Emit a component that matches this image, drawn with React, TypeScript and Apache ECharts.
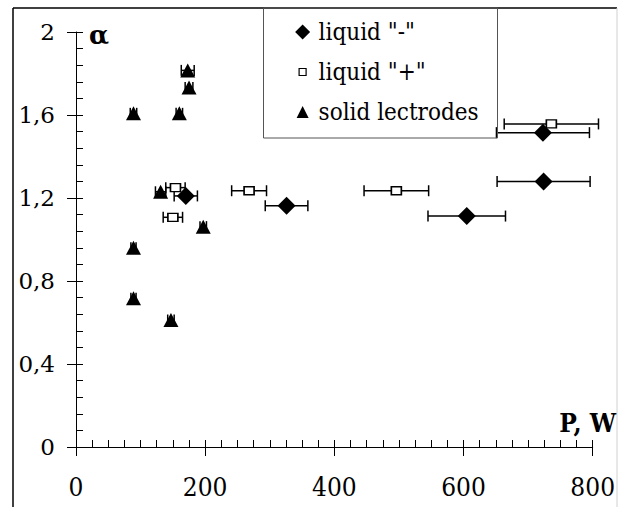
import React, { useEffect, useRef } from 'react';
import * as echarts from 'echarts';

// liquid "-" series
const minusP = [170, 326, 605, 724, 723];
const minusAlpha = [1.21, 1.163, 1.113, 1.28, 1.515];
const minusErr = [18, 33, 60, 72, 72];

// liquid "+" series
const plusP = [154, 150, 268, 496, 736];
const plusAlpha = [1.25, 1.107, 1.235, 1.235, 1.557];
const plusErr = [15, 15, 27, 50, 73];

// solid electrodes series
const solidP = [89, 160, 173, 175, 131, 197, 89, 89, 147];
const solidAlpha = [1.608, 1.608, 1.815, 1.733, 1.23, 1.062, 0.96, 0.717, 0.612];
const solidErr = [5, 5, 10, 6, 8, 5, 4, 4, 5];

const seriesNames = ['liquid "-"', 'liquid "+"', 'solid lectrodes'];
const xLabelTitle = 'P, W';
const yLabelTitle = 'α';

const FONT_C = 'DejaVu Serif Condensed';
const FONT = 'DejaVu Serif';

const toRows = (xs: number[], ys: number[], es: number[]) => xs.map((x, i) => [x, ys[i], es[i]]);

const errorBarItem = (params: any, api: any) => {
  const x = api.value(0);
  const y = api.value(1);
  const e = api.value(2);
  const l = api.coord([x - e, y]);
  const r = api.coord([x + e, y]);
  const h = 5.5;
  const style = { stroke: '#000', lineWidth: 1.5 };
  return {
    type: 'group',
    children: [
      { type: 'line', shape: { x1: l[0], y1: l[1], x2: r[0], y2: r[1] }, style },
      { type: 'line', shape: { x1: l[0], y1: l[1] - h, x2: l[0], y2: l[1] + h }, style },
      { type: 'line', shape: { x1: r[0], y1: r[1] - h, x2: r[0], y2: r[1] + h }, style },
    ],
  };
};

export default function App() {
  const ref = useRef<HTMLDivElement>(null);
  useEffect(() => {
    document.body.style.margin = '0';
    if (!ref.current) return;
    const chart = echarts.init(ref.current, undefined, { renderer: 'svg' });
    const minusRows = toRows(minusP, minusAlpha, minusErr);
    const plusRows = toRows(plusP, plusAlpha, plusErr);
    const solidRows = toRows(solidP, solidAlpha, solidErr);
    chart.setOption({
      animation: false,
      backgroundColor: '#fff',
      grid: { left: 76, right: 20, top: 32, bottom: 60 },
      xAxis: [
        {
          type: 'value', min: 0, max: 800, interval: 200, position: 'bottom',
          axisLine: { show: true, lineStyle: { color: '#000', width: 1 } },
          axisTick: { show: true, inside: false, length: 9, lineStyle: { color: '#000' } },
          axisLabel: { color: '#000', fontFamily: FONT_C, fontSize: 26, margin: 27 },
          splitLine: { show: false },
        },
        {
          type: 'value', min: 0, max: 800, interval: 25, position: 'bottom',
          axisLine: { show: false },
          axisTick: { show: true, inside: true, length: 7, lineStyle: { color: '#000' } },
          axisLabel: { show: false },
          splitLine: { show: false },
        },
      ],
      yAxis: [
        {
          type: 'value', min: 0, max: 2, interval: 0.4, position: 'left',
          axisLine: { show: true, lineStyle: { color: '#000', width: 1 } },
          axisTick: { show: true, inside: false, length: 9, lineStyle: { color: '#000' } },
          axisLabel: {
            color: '#000', fontFamily: FONT, fontSize: 23, margin: 21,
            formatter: (v: number) => String(+v.toFixed(1)).replace('.', ','),
          },
          splitLine: { show: false },
        },
        {
          type: 'value', min: 0, max: 2, interval: 0.08, position: 'left',
          axisLine: { show: false },
          axisTick: { show: true, inside: true, length: 7, lineStyle: { color: '#000' } },
          axisLabel: { show: false },
          splitLine: { show: false },
        },
      ],
      legend: {
        orient: 'vertical',
        left: 291,
        top: 19,
        padding: 0,
        itemGap: 14,
        itemWidth: 22,
        itemHeight: 16,
        textStyle: { color: '#000', fontFamily: FONT_C, fontSize: 24, lineHeight: 26 },
        data: [
          {
            name: seriesNames[0],
            icon: 'path://M0,0M22,16M3.5,8L11,0.5L18.5,8L11,15.5Z',
            itemStyle: { color: '#000', borderWidth: 0 },
          },
          {
            name: seriesNames[1],
            icon: 'path://M0,0M22,16M7.5,4.5L14.5,4.5L14.5,11.5L7.5,11.5Z',
            itemStyle: { color: '#fff', borderColor: '#000', borderWidth: 1.2 },
          },
          {
            name: seriesNames[2],
            icon: 'path://M0,0M22,16M5,14L11,2L17,14Z',
            itemStyle: { color: '#000', borderWidth: 0 },
          },
        ],
      },
      series: [
        { type: 'custom', renderItem: errorBarItem, data: minusRows, encode: { x: 0, y: 1 }, z: 1, silent: true },
        { type: 'custom', renderItem: errorBarItem, data: plusRows, encode: { x: 0, y: 1 }, z: 1, silent: true },
        { type: 'custom', renderItem: errorBarItem, data: solidRows, encode: { x: 0, y: 1 }, z: 1, silent: true },
        {
          name: seriesNames[0], type: 'scatter', symbol: 'diamond', symbolSize: 18, z: 3,
          itemStyle: { color: '#000', opacity: 1 },
          data: minusRows.map((r) => [r[0], r[1]]),
        },
        {
          name: seriesNames[1], type: 'scatter', symbol: 'rect', symbolSize: [10, 8], z: 3,
          itemStyle: { color: '#fff', borderColor: '#000', borderWidth: 1.5, opacity: 1 },
          data: plusRows.map((r) => [r[0], r[1]]),
        },
        {
          name: seriesNames[2], type: 'scatter', symbol: 'triangle', symbolSize: [15, 14], z: 3,
          itemStyle: { color: '#000', opacity: 1 },
          data: solidRows.map((r) => [r[0], r[1]]),
        },
      ],
      graphic: [
        { type: 'line', shape: { x1: 13, y1: 8, x2: 617, y2: 8 }, style: { stroke: '#000', lineWidth: 1.5 }, z: 10 },
        { type: 'line', shape: { x1: 13, y1: 8, x2: 13, y2: 507 }, style: { stroke: '#000', lineWidth: 1.5 }, z: 10 },
        { type: 'line', shape: { x1: 617, y1: 8, x2: 617, y2: 507 }, style: { stroke: '#d0d0d0', lineWidth: 1 }, z: 10 },
        {
          type: 'rect', shape: { x: 263.5, y: 8, width: 234, height: 130 },
          style: { fill: 'none', stroke: '#555', lineWidth: 1 }, z: 10,
        },
        {
          type: 'text', x: 99, y: 35, z: 10,
          style: { text: yLabelTitle, fontFamily: FONT, fontWeight: 'bold', fontSize: 26, fill: '#000', align: 'center', verticalAlign: 'middle' },
        },
        {
          type: 'text', x: 616, y: 423, z: 10,
          style: { text: xLabelTitle, fontFamily: FONT_C, fontWeight: 'bold', fontSize: 26, fill: '#000', align: 'right', verticalAlign: 'middle' },
        },
      ],
    });
    return () => chart.dispose();
  }, []);
  return <div ref={ref} style={{ width: 618, height: 507 }} />;
}
